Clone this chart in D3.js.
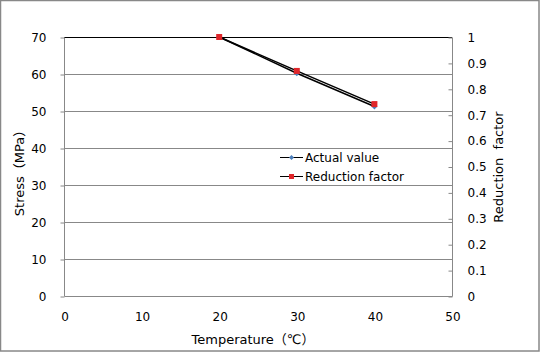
<!DOCTYPE html>
<html>
<head>
<meta charset="utf-8">
<script src="https://cdn.jsdelivr.net/npm/d3@7"></script>
<style>
  body { margin: 0; background: #fff; }
  svg text { font-family: "DejaVu Sans", "Noto Sans CJK JP", sans-serif; font-size: 12px; fill: #000; }
</style>
</head>
<body>
<div id="chart"></div>
<script>
// data
const temps = [20, 30, 40];
const actualValue = [70, 60.2, 51.2];
const reductionFactor = [1, 0.869, 0.741];
const xTicks = [0, 10, 20, 30, 40, 50];
const yTicks = [0, 10, 20, 30, 40, 50, 60, 70];
const y2Ticks = [0, 0.1, 0.2, 0.3, 0.4, 0.5, 0.6, 0.7, 0.8, 0.9, 1];

const W = 540, H = 352;
const margin = { left: 64, right: 88, top: 37, bottom: 56 };
const width = W - margin.left - margin.right;
const height = H - margin.top - margin.bottom;

const root = d3.select("#chart").append("svg")
  .attr("width", W).attr("height", H);

root.append("rect")
  .attr("x", 0.5).attr("y", 0.5).attr("width", W - 1.5).attr("height", H - 1.5)
  .attr("fill", "#fff").attr("stroke", "#888").attr("stroke-width", 1.5);

const svg = root.append("g")
  .attr("transform", `translate(${margin.left}, ${margin.top})`);

const x = d3.scaleLinear().domain([0, 50]).range([0, width]);
const y = d3.scaleLinear().domain([0, 70]).range([height, 0]);
const y2 = d3.scaleLinear().domain([0, 1]).range([height, 0]);

// gridlines
svg.append("g")
  .selectAll("line")
  .data(yTicks.filter(d => d > 0))
  .join("line")
  .attr("x1", 0).attr("x2", width)
  .attr("y1", d => Math.round(y(d)) + 0.5).attr("y2", d => Math.round(y(d)) + 0.5)
  .attr("stroke", d => d === 70 ? "#000" : "#888")
  .attr("stroke-width", 1);

// plot border (left, bottom, right)
svg.append("path")
  .attr("d", `M0.5,0.5 V${height + 0.5} H${width + 0.5} V0.5`)
  .attr("fill", "none").attr("stroke", "#888");

// left axis
const yAxis = svg.append("g")
  .attr("transform", "translate(0.5,0.5)")
  .call(d3.axisLeft(y).tickValues(yTicks).tickSize(4).tickPadding(14));
yAxis.select(".domain").remove();
yAxis.selectAll("line").attr("stroke", "#888");
yAxis.selectAll("text").style("font-size", "12px").style("font-family", "DejaVu Sans");

// right axis, ticks point inward
const y2Axis = svg.append("g")
  .attr("transform", `translate(${width + 0.5},0.5)`)
  .call(d3.axisRight(y2).tickValues(y2Ticks).tickSize(-4).tickPadding(15)
    .tickFormat(d => d === 0 || d === 1 ? d3.format("d")(d) : d3.format(".1f")(d)));
y2Axis.select(".domain").remove();
y2Axis.selectAll("line").attr("stroke", "#888");
y2Axis.selectAll("text").style("font-size", "12px").style("font-family", "DejaVu Sans");

// bottom axis, no ticks
const xAxis = svg.append("g")
  .attr("transform", `translate(0.5,${height + 0.5})`)
  .call(d3.axisBottom(x).tickValues(xTicks).tickSize(0).tickPadding(16));
xAxis.select(".domain").remove();
xAxis.selectAll("text").style("font-size", "12px").style("font-family", "DejaVu Sans");

// series
const actualPts = temps.map((t, i) => ({ x: t, y: y(actualValue[i]) }));
const factorPts = temps.map((t, i) => ({ x: t, y: y2(reductionFactor[i]) }));
const line = d3.line().x(d => x(d.x)).y(d => d.y);

[actualPts, factorPts].forEach(pts => {
  svg.append("path")
    .datum(pts)
    .attr("fill", "none")
    .attr("stroke", "#000")
    .attr("stroke-width", 1.5)
    .attr("d", line);
});

svg.append("g").selectAll("path")
  .data(actualPts)
  .join("path")
  .attr("transform", d => `translate(${x(d.x)},${d.y})`)
  .attr("d", d3.symbol(d3.symbolDiamond2, 22))
  .attr("fill", "#4a7ebb");

svg.append("g").selectAll("rect")
  .data(factorPts)
  .join("rect")
  .attr("x", d => x(d.x) - 3).attr("y", d => d.y - 3)
  .attr("width", 6).attr("height", 6)
  .attr("fill", "#e0262a");

// legend
const legendItems = [
  { name: "Actual value", color: "#4a7ebb", shape: "diamond" },
  { name: "Reduction factor", color: "#e0262a", shape: "square" }
];
const legend = root.append("g").attr("transform", "translate(280,157)");
legendItems.forEach((d, i) => {
  const g = legend.append("g").attr("transform", `translate(0,${i * 19})`);
  g.append("line").attr("x1", 0).attr("x2", 23).attr("y1", 0.5).attr("y2", 0.5)
    .attr("stroke", "#000").attr("stroke-width", 1);
  if (d.shape === "diamond") {
    g.append("path").attr("transform", "translate(11.5,0.5)")
      .attr("d", d3.symbol(d3.symbolDiamond2, 16)).attr("fill", d.color);
  } else {
    g.append("rect").attr("x", 9).attr("y", -2).attr("width", 5).attr("height", 5)
      .attr("fill", d.color);
  }
  g.append("text").attr("x", 25).attr("y", 4.5).text(d.name);
});

// axis titles
root.append("text")
  .attr("x", margin.left + width / 2 - 5).attr("y", 344)
  .attr("text-anchor", "middle")
  .style("font-size", "13px")
  .text("Temperature（℃）");

root.append("text")
  .attr("transform", "translate(24,170) rotate(-90)")
  .attr("text-anchor", "middle")
  .style("font-size", "13px")
  .text("Stress（MPa）");

root.append("text")
  .attr("transform", "translate(503,167) rotate(-90)")
  .attr("text-anchor", "middle")
  .style("font-size", "13px")
  .attr("xml:space", "preserve")
  .style("white-space", "pre")
  .text("Reduction  factor");
</script>
</body>
</html>
